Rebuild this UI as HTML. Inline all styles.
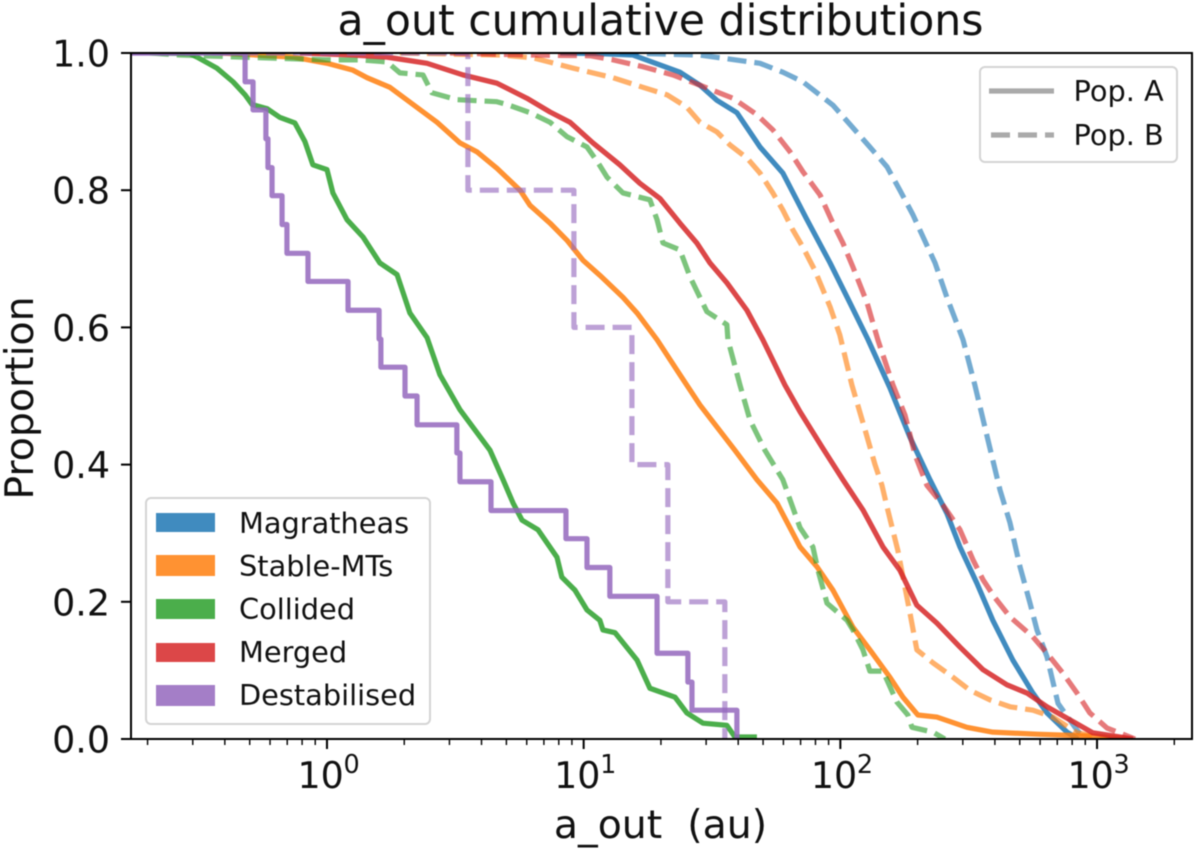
<!DOCTYPE html>
<html lang="en">
<head>
<meta charset="utf-8">
<title>a_out cumulative distributions</title>
<style>
html,body{margin:0;padding:0;background:#fff;}
svg{display:block;filter:blur(0.45px);}
text{font-family:"DejaVu Sans","Liberation Sans",sans-serif;fill:#111;}
</style>
</head>
<body>
<svg id="chart" xmlns="http://www.w3.org/2000/svg" width="1200" height="854" viewBox="0 0 1200 854">
  <defs><clipPath id="plot-clip"><rect x="131" y="53" width="1061" height="686"/></clipPath></defs>
  <rect x="0" y="0" width="1200" height="854" fill="#fff"/>
  <g id="series-layer" clip-path="url(#plot-clip)"></g>
  <g id="tick-layer"></g>
  <rect x="131" y="53" width="1061" height="686" fill="none" stroke="#000" stroke-width="2"/>
  <text x="660.5" y="35" font-size="42.6" text-anchor="middle">a_out cumulative distributions</text>
  <text x="660.5" y="838" font-size="39.4" text-anchor="middle" xml:space="preserve">a_out  (au)</text>
  <text transform="translate(33,398) rotate(-90)" font-size="39.4" text-anchor="middle">Proportion</text>

  <g>
    <rect x="146" y="498" width="284" height="226" rx="5" fill="#fff" fill-opacity="0.85" stroke="#d4d4d4" stroke-width="2"/>
    <rect x="156" y="513" width="59" height="19" fill="#1f77b4" fill-opacity="0.85"/>
    <text x="239" y="533" font-size="28.8">Magratheas</text>
    <rect x="156" y="555" width="59" height="21" fill="#ff7f0e" fill-opacity="0.85"/>
    <text x="239" y="576" font-size="28.8">Stable-MTs</text>
    <rect x="156" y="599" width="59" height="20" fill="#2ca02c" fill-opacity="0.85"/>
    <text x="239" y="619" font-size="28.8">Collided</text>
    <rect x="156" y="643" width="59" height="19" fill="#d62728" fill-opacity="0.85"/>
    <text x="239" y="662" font-size="28.8">Merged</text>
    <rect x="156" y="685" width="59" height="21" fill="#9467bd" fill-opacity="0.85"/>
    <text x="239" y="705" font-size="28.8">Destabilised</text>
  </g>

  <g>
    <rect x="980" y="67" width="197" height="95" rx="5" fill="#fff" fill-opacity="0.85" stroke="#d4d4d4" stroke-width="2"/>
    <line x1="989" y1="91" x2="1054" y2="91" stroke="#aaa" stroke-width="5.2"/>
    <text x="1073.5" y="101" font-size="28.8">Pop. A</text>
    <line x1="991" y1="135" x2="1054" y2="135" stroke="#aaa" stroke-width="5.2" stroke-dasharray="19 8"/>
    <text x="1073.5" y="145" font-size="28.8">Pop. B</text>
  </g>
</svg>
<script>
// Axis limits (log10 of a_out in au; proportion)
const xDomainLog = [-0.7635, 3.37];
const yDomain = [0, 1];
// Tick values
const xMajorTickExponents = [0, 1, 2, 3];
const xMinorTickMultipliers = [2, 3, 4, 5, 6, 7, 8, 9];
const xMinorTickDecades = [-1, 0, 1, 2, 3];
const yTickValues = [0, 0.2, 0.4, 0.6, 0.8, 1.0];
const yTickLabels = ["0.0", "0.2", "0.4", "0.6", "0.8", "1.0"];

// Series: log10(a_out / au) and cumulative proportion
const magratheasALog = [0.908,1.063,1.192,1.375,1.453,1.519,1.597,1.687,1.776,1.870,1.960,2.037,2.108,2.193,2.271,2.349,2.415,2.466,2.532,2.594,2.672,2.750,2.805,2.883,2.926];
const magratheasAProp = [1,.999,.997,.972,.953,.931,.913,.863,.825,.757,.694,.636,.582,.512,.440,.378,.329,.280,.227,.173,.115,.067,.038,.010,0];
const magratheasBLog = [1.141,1.453,1.687,1.776,1.854,1.971,2.049,2.115,2.182,2.232,2.283,2.322,2.369,2.415,2.478,2.524,2.575,2.622,2.661,2.700,2.739,2.766,2.805,2.848,2.922,2.953];
const magratheasBProp = [1,.997,.985,.972,.958,.924,.891,.863,.834,.800,.764,.732,.694,.644,.582,.516,.436,.363,.315,.251,.198,.159,.120,.052,.013,0];
const stableALog = [-.417,-.132,0,.101,.156,.245,.335,.429,.518,.584,.662,.752,.791,.869,.935,.997,1.063,1.153,1.208,1.286,1.375,1.453,1.589,1.675,1.753,1.843,1.909,1.971,2.049,2.115,2.193,2.244,2.302,2.376,2.493,2.594,2.766,3.000,3.128];
const stableAProp = [1,.994,.985,.975,.964,.950,.925,.899,.869,.856,.832,.800,.778,.752,.727,.698,.676,.644,.621,.582,.531,.487,.421,.378,.344,.280,.251,.217,.163,.130,.090,.061,.035,.032,.017,.010,.007,.004,0];
const stableBLog = [.284,.674,.802,.958,1.114,1.231,1.325,1.402,1.453,1.519,1.570,1.636,1.687,1.737,1.776,1.815,1.854,1.901,1.960,1.998,2.045,2.096,2.135,2.162,2.182,2.224,2.244,2.271,2.298,2.361,2.439,2.505,2.583,2.661,2.750,2.828,2.922,3.050];
const stableBProp = [1,.997,.993,.978,.964,.950,.939,.921,.899,.885,.866,.847,.825,.796,.771,.742,.717,.683,.630,.589,.516,.451,.400,.370,.338,.275,.236,.184,.130,.111,.090,.071,.057,.047,.042,.032,.009,0];
const collidedALog = [-.651,-.534,-.506,-.429,-.366,-.319,-.292,-.234,-.183,-.125,-.086,-.055,0,.023,.078,.140,.206,.273,.323,.390,.440,.518,.635,.686,.725,.760,.822,.896,.915,.966,1.013,1.063,1.075,1.122,1.208,1.258,1.356,1.402,1.465,1.558,1.589,1.675];
const collidedAProp = [1,.999,.994,.978,.958,.939,.925,.919,.906,.898,.871,.837,.830,.796,.757,.732,.694,.677,.621,.585,.531,.480,.421,.378,.344,.319,.305,.265,.236,.217,.188,.173,.159,.155,.115,.074,.061,.038,.023,.020,.003,.003];
const collidedBLog = [-.690,-.573,0,.129,.234,.284,.374,.409,.506,.662,.701,.791,.869,.935,1.013,1.056,1.091,1.153,1.258,1.286,1.309,1.375,1.414,1.445,1.480,1.558,1.562,1.609,1.648,1.706,1.776,1.843,1.893,1.913,1.948,2.026,2.049,2.088,2.115,2.166,2.220,2.263,2.279,2.361,2.407];
const collidedBProp = [1,.997,.990,.990,.987,.971,.968,.942,.932,.929,.925,.913,.899,.878,.863,.840,.819,.796,.786,.757,.723,.713,.674,.650,.623,.604,.582,.516,.465,.421,.378,.308,.280,.246,.198,.173,.159,.130,.099,.099,.054,.035,.017,.010,0];
const mergedALog = [-.105,.101,.234,.390,.530,.662,.779,.869,.947,1.036,1.141,1.219,1.297,1.375,1.441,1.492,1.558,1.636,1.698,1.784,1.843,1.928,2.010,2.088,2.166,2.232,2.298,2.376,2.466,2.556,2.649,2.727,2.805,2.894,2.984,3.140];
const mergedAProp = [1,.997,.994,.985,.968,.956,.934,.914,.899,.869,.837,.810,.788,.752,.723,.694,.665,.625,.582,.516,.477,.426,.378,.334,.280,.246,.195,.169,.134,.101,.079,.067,.047,.028,.009,0];
const mergedBLog = [.479,.802,1.025,1.114,1.231,1.348,1.453,1.582,1.675,1.737,1.804,1.854,1.921,1.971,2.010,2.049,2.104,2.146,2.205,2.252,2.291,2.337,2.400,2.466,2.517,2.556,2.602,2.661,2.750,2.805,2.867,2.922,2.972,3.039,3.148];
const mergedBProp = [1,.997,.996,.990,.980,.968,.953,.934,.910,.888,.856,.827,.793,.752,.723,.688,.636,.582,.516,.472,.414,.370,.341,.305,.261,.232,.206,.178,.149,.125,.096,.067,.038,.016,0];
const destabilisedALog = [-.319,-.288,-.238,-.230,-.214,-.175,-.156,-.074,.082,.203,.210,.304,.351,.506,.518,.639,.931,1.013,1.102,1.286,1.406,1.422,1.597];
const destabilisedAProp = [.958,.917,.875,.833,.792,.75,.708,.667,.625,.583,.542,.5,.458,.417,.375,.333,.292,.25,.208,.125,.083,.042,0];
const destabilisedBLog = [.549,.962,1.188,1.328,1.550];
const destabilisedBProp = [.8,.6,.4,.2,0];

const plotBox = {left: 131, right: 1192, top: 53, bottom: 739};
const SVG_NS = 'http://www.w3.org/2000/svg';
function xScale(logAu) {
  return plotBox.left + (logAu - xDomainLog[0]) / (xDomainLog[1] - xDomainLog[0]) * (plotBox.right - plotBox.left);
}
function yScale(prop) {
  return plotBox.bottom - (prop - yDomain[0]) / (yDomain[1] - yDomain[0]) * (plotBox.bottom - plotBox.top);
}
function smoothPoints(xs, ys) {
  return xs.map(function (x, i) { return xScale(x).toFixed(2) + ',' + yScale(ys[i]).toFixed(2); }).join(' ');
}
function stepPoints(xs, ys) {
  const pts = [plotBox.left + ',' + yScale(1).toFixed(2)];
  let prev = 1;
  xs.forEach(function (x, i) {
    pts.push(xScale(x).toFixed(2) + ',' + yScale(prev).toFixed(2));
    pts.push(xScale(x).toFixed(2) + ',' + yScale(ys[i]).toFixed(2));
    prev = ys[i];
  });
  return pts.join(' ');
}

const seriesLayer = document.getElementById('series-layer');
function drawSeries(seriesName, points, color, dashed) {
  const line = document.createElementNS(SVG_NS, 'polyline');
  
  
  line.setAttribute('points', points);
  line.setAttribute('fill', 'none');
  line.setAttribute('stroke', color);
  line.setAttribute('stroke-width', '5.2');
  line.setAttribute('stroke-linejoin', 'round');
  line.setAttribute('stroke-opacity', dashed ? '0.62' : '0.85');
  if (dashed) { line.setAttribute('stroke-dasharray', '19 8'); }
  seriesLayer.appendChild(line);
}
drawSeries('magratheas-pop-a-line', smoothPoints(magratheasALog, magratheasAProp), '#1f77b4', false);
drawSeries('magratheas-pop-b-line', smoothPoints(magratheasBLog, magratheasBProp), '#1f77b4', true);
drawSeries('stable-mts-pop-a-line', smoothPoints(stableALog, stableAProp), '#ff7f0e', false);
drawSeries('stable-mts-pop-b-line', smoothPoints(stableBLog, stableBProp), '#ff7f0e', true);
drawSeries('collided-pop-a-line', smoothPoints(collidedALog, collidedAProp), '#2ca02c', false);
drawSeries('collided-pop-b-line', smoothPoints(collidedBLog, collidedBProp), '#2ca02c', true);
drawSeries('merged-pop-a-line', smoothPoints(mergedALog, mergedAProp), '#d62728', false);
drawSeries('merged-pop-b-line', smoothPoints(mergedBLog, mergedBProp), '#d62728', true);
drawSeries('destabilised-pop-a-line', stepPoints(destabilisedALog, destabilisedAProp), '#9467bd', false);
drawSeries('destabilised-pop-b-line', stepPoints(destabilisedBLog, destabilisedBProp), '#9467bd', true);

const tickLayer = document.getElementById('tick-layer');
function tickLine(x1, y1, x2, y2, width, tickName) {
  const t = document.createElementNS(SVG_NS, 'line');
  
  
  t.setAttribute('x1', x1); t.setAttribute('y1', y1);
  t.setAttribute('x2', x2); t.setAttribute('y2', y2);
  t.setAttribute('stroke', '#000');
  t.setAttribute('stroke-width', width);
  tickLayer.appendChild(t);
}
xMinorTickDecades.forEach(function (d) {
  xMinorTickMultipliers.forEach(function (m) {
    const lg = d + Math.log10(m);
    if (lg >= xDomainLog[0] && lg <= xDomainLog[1]) {
      tickLine(xScale(lg), plotBox.bottom, xScale(lg), plotBox.bottom + 6, 1.4, 'x-minor-tick');
    }
  });
});
xMajorTickExponents.forEach(function (e) {
  const px = xScale(e);
  tickLine(px, plotBox.bottom, px, plotBox.bottom + 10, 2, 'x-major-tick');
  const label = document.createElementNS(SVG_NS, 'text');
  
  
  label.setAttribute('x', px - 29.5);
  label.setAttribute('y', 788);
  label.setAttribute('font-size', '36.4');
  label.textContent = '10';
  tickLayer.appendChild(label);
  const sup = document.createElementNS(SVG_NS, 'text');
  
  
  sup.setAttribute('x', px + 16.5);
  sup.setAttribute('y', 773);
  sup.setAttribute('font-size', '25.5');
  sup.textContent = String(e);
  tickLayer.appendChild(sup);
});
yTickValues.forEach(function (v, i) {
  const py = yScale(v);
  tickLine(plotBox.left - 10, py, plotBox.left, py, 2, 'y-major-tick');
  const label = document.createElementNS(SVG_NS, 'text');
  
  
  label.setAttribute('x', 110);
  label.setAttribute('y', py + 13.5);
  label.setAttribute('font-size', '36.4');
  label.setAttribute('text-anchor', 'end');
  label.textContent = yTickLabels[i];
  tickLayer.appendChild(label);
});
</script>
</body>
</html>
